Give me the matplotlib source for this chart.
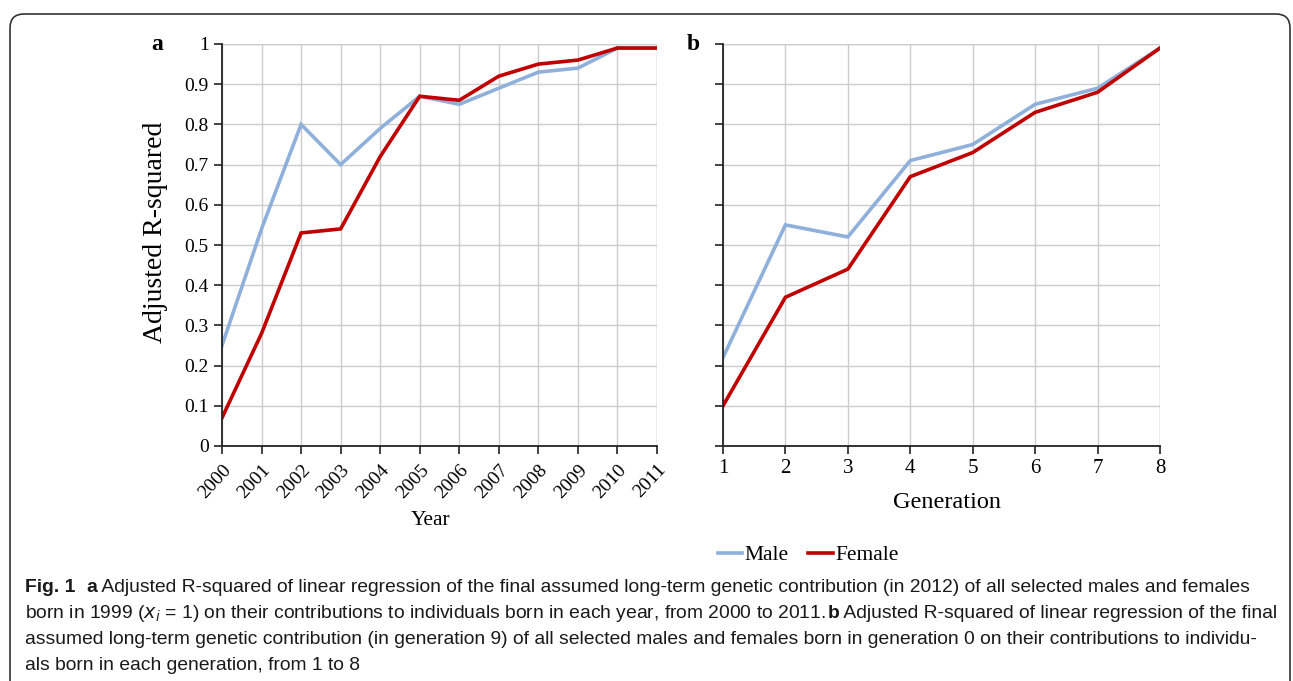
import matplotlib
matplotlib.use("Agg")
import matplotlib.pyplot as plt
from matplotlib.patches import FancyBboxPatch
from matplotlib.lines import Line2D
from matplotlib.transforms import IdentityTransform

years = [2000, 2001, 2002, 2003, 2004, 2005, 2006, 2007, 2008, 2009, 2010, 2011]
male_a = [0.25, 0.54, 0.80, 0.70, 0.79, 0.87, 0.85, 0.89, 0.93, 0.94, 0.99, 0.99]
female_a = [0.07, 0.28, 0.53, 0.54, 0.72, 0.87, 0.86, 0.92, 0.95, 0.96, 0.99, 0.99]

generations = [1, 2, 3, 4, 5, 6, 7, 8]
male_b = [0.22, 0.55, 0.52, 0.71, 0.75, 0.85, 0.89, 0.99]
female_b = [0.10, 0.37, 0.44, 0.67, 0.73, 0.83, 0.88, 0.99]

yticks = [0, 0.1, 0.2, 0.3, 0.4, 0.5, 0.6, 0.7, 0.8, 0.9, 1]
ytick_labels = ["0", "0.1", "0.2", "0.3", "0.4", "0.5", "0.6", "0.7", "0.8", "0.9", "1"]

MALE_C = "#8EB0DA"
FEMALE_C = "#C00000"
GRID_C = "#CCCCCC"
SERIF = ["Liberation Serif", "DejaVu Serif"]
CAP = ["Liberation Sans", "DejaVu Sans"]
LW = 2.6

W, H = 1293, 681
fig = plt.figure(figsize=(W / 100, H / 100), dpi=100)

def px_axes(x0, x1, y0, y1):
    return fig.add_axes([x0 / W, 1 - y1 / H, (x1 - x0) / W, (y1 - y0) / H])

def fx(x):
    return x / W

def fy(y):
    return 1 - y / H

def style(ax):
    for s in ["top", "right"]:
        ax.spines[s].set_visible(False)
    for s in ["left", "bottom"]:
        ax.spines[s].set_color("#222222")
        ax.spines[s].set_linewidth(1.3)
    ax.grid(True, color=GRID_C, linewidth=1.0)
    ax.set_axisbelow(True)
    ax.set_ylim(0, 1)
    ax.set_yticks(yticks)
    ax.tick_params(axis="both", direction="out", length=6, width=1.2, color="#222222")

ax1 = px_axes(222, 657, 44, 446)
ax1.plot(years, male_a, color=MALE_C, lw=LW, solid_joinstyle="miter")
ax1.plot(years, female_a, color=FEMALE_C, lw=LW, solid_joinstyle="miter")
ax1.set_xlim(years[0], years[-1])
ax1.set_xticks(years)
style(ax1)
ax1.set_yticklabels(ytick_labels, family=SERIF, fontsize=14)
ax1.set_xticklabels([str(y) for y in years], rotation=47, ha="right", va="top",
                    rotation_mode="anchor", family=SERIF, fontsize=14)
ax1.tick_params(axis="x", pad=5)
ax1.axhline(1, color=GRID_C, lw=1.0, zorder=0.5)
ax1.axvline(years[-1], color=GRID_C, lw=1.0, zorder=0.5)

ax2 = px_axes(723, 1160, 44, 446)
ax2.plot(generations, male_b, color=MALE_C, lw=LW, solid_joinstyle="miter")
ax2.plot(generations, female_b, color=FEMALE_C, lw=LW, solid_joinstyle="miter")
ax2.set_xlim(generations[0], generations[-1])
ax2.set_xticks(generations)
style(ax2)
ax2.set_yticklabels([])
ax2.set_xticklabels([str(g) for g in generations], family=SERIF, fontsize=15)
ax2.axhline(1, color=GRID_C, lw=1.0, zorder=0.5)
ax2.axvline(generations[-1], color=GRID_C, lw=1.0, zorder=0.5)

# axis titles
fig.text(fx(431), fy(525), "Year", family=SERIF, fontsize=15.5, ha="center", va="baseline")
fig.text(fx(947), fy(508), "Generation", family=SERIF, fontsize=17.5, ha="center", va="baseline")
fig.text(fx(156), fy(232), "Adjusted R-squared", family=SERIF, fontsize=20, rotation=90,
         ha="center", va="center")

fig.text(fx(157), fy(44), "a", family=SERIF, fontsize=17, fontweight="bold",
         ha="center", va="center")
fig.text(fx(693), fy(44), "b", family=SERIF, fontsize=17, fontweight="bold",
         ha="center", va="center")

handles = [Line2D([], [], color=MALE_C, lw=LW), Line2D([], [], color=FEMALE_C, lw=LW)]
fig.legend(handles, ["Male", "Female"], loc="center", bbox_to_anchor=(fx(808), fy(555)),
           ncol=2, frameon=False, prop={"family": SERIF, "size": 15.5},
           handlelength=1.15, handletextpad=0.1, columnspacing=0.9)

# border
box = FancyBboxPatch((10, -30), 1280, H - 14 + 30,
                     boxstyle="round,pad=0,rounding_size=14",
                     transform=IdentityTransform(), fill=False, edgecolor="#333333",
                     linewidth=1.2)
fig.add_artist(box)

# caption
caption_lines = [
    [("Fig. 1", "bold"), ("  ", "normal"), ("a", "bold"),
     (" Adjusted R-squared of linear regression of the final assumed long-term genetic contribution (in 2012) of all selected males and females", "normal")],
    [("born in 1999 ($x_i$ = 1) on their contributions to individuals born in each year, from 2000 to 2011. ", "normal"),
     ("b", "bold"), (" Adjusted R-squared of linear regression of the final", "normal")],
    [("assumed long-term genetic contribution (in generation 9) of all selected males and females born in generation 0 on their contributions to individu-", "normal")],
    [("als born in each generation, from 1 to 8", "normal")],
]
baselines = [592, 618, 644, 670]
fig.canvas.draw()
renderer = fig.canvas.get_renderer()
for pieces, yy in zip(caption_lines, baselines):
    x = 25
    for txt, wt in pieces:
        t = fig.text(fx(x), fy(yy), txt, family=CAP, fontsize=13.9, fontweight=wt,
                     ha="left", va="baseline", color="#1a1a1a")
        bb = t.get_window_extent(renderer=renderer)
        x += bb.width

fig.savefig("out.png", dpi=100)
